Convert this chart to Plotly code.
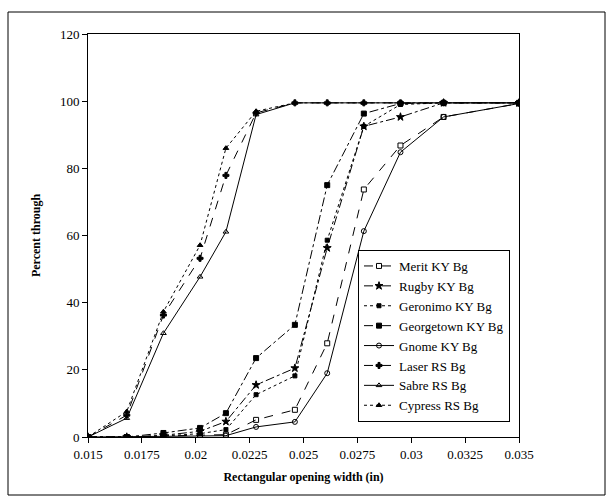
import plotly.graph_objects as go

# Opening widths (in)
widths = [0.015, 0.0168, 0.0185, 0.0202, 0.0214, 0.0228, 0.0246, 0.0261, 0.0278, 0.0295, 0.0315, 0.035]

series_names = ["Merit KY Bg", "Rugby KY Bg", "Geronimo KY Bg", "Georgetown KY Bg",
                "Gnome KY Bg", "Laser RS Bg", "Sabre RS Bg", "Cypress RS Bg"]

merit      = [0, 0, 0.3, 0.5, 0.7, 5.1, 8.1, 27.9, 73.7, 86.8, 95.3, 99.3]
rugby      = [0, 0, 0.5, 1.7, 4.6, 15.5, 20.5, 56.3, 92.5, 95.3, 99.5, 99.5]
geronimo   = [0, 0, 0.3, 1.0, 2.2, 12.6, 18.2, 58.6, 92.5, 99.0, 99.5, 99.5]
georgetown = [0, 0, 1.2, 2.7, 7.1, 23.5, 33.4, 75.0, 96.3, 99.3, 99.5, 99.5]
gnome      = [0, 0, 0.2, 0.3, 0.4, 3.0, 4.5, 19.0, 61.3, 84.8, 95.3, 99.3]
laser      = [0, 6.5, 36.3, 53.2, 77.9, 96.5, 99.5, 99.5, 99.5, 99.5, 99.5, 99.5]
sabre      = [0, 5.6, 30.9, 47.7, 61.1, 96.0, 99.5, 99.5, 99.5, 99.5, 99.5, 99.5]
cypress    = [0, 7.6, 37.3, 57.1, 86.0, 97.0, 99.5, 99.5, 99.5, 99.5, 99.5, 99.5]

values = [merit, rugby, geronimo, georgetown, gnome, laser, sabre, cypress]

dashes = ["dash", "dashdot", "dot", "dashdot", "solid", "dash", "solid", "dot"]
symbols = ["square-open", "star", "square", "square", "circle-open",
           "cross", "triangle-up-open", "triangle-up"]
sizes = [5, 6, 4, 5, 5, 5, 5, 5]

FONT = "Liberation Serif, Times New Roman, serif"

fig = go.Figure()
for name, ys, d, s, sz in zip(series_names, values, dashes, symbols, sizes):
    fig.add_trace(go.Scatter(
        x=widths, y=ys, name=name, mode="lines+markers",
        line=dict(color="black", width=1, dash=d),
        marker=dict(symbol=s, size=sz, color="black",
                    line=dict(color="black", width=1)),
    ))

L, R, T, B = 88, 93, 34, 67
W, H = 612, 504
pw, ph = W - L - R, H - T - B

def px_x(px):
    return (px - L) / pw

def px_y(py):
    return (H - B - py) / ph

fig.add_shape(type="rect", xref="paper", yref="paper",
              x0=px_x(8), x1=px_x(605), y0=px_y(495), y1=px_y(12),
              line=dict(color="black", width=1), layer="below")

fig.update_layout(
    width=W, height=H,
    margin=dict(l=L, r=R, t=T, b=B),
    paper_bgcolor="white", plot_bgcolor="white",
    font=dict(family=FONT, size=13, color="black"),
    showlegend=True,
    legend=dict(x=px_x(358), y=px_y(250), xanchor="left", yanchor="top",
                bordercolor="black", borderwidth=1, bgcolor="white",
                font=dict(family=FONT, size=13, color="black"),
                itemwidth=30, tracegroupgap=0),
    xaxis=dict(range=[0.015, 0.035], tickvals=[0.015, 0.0175, 0.02, 0.0225, 0.025,
                                                0.0275, 0.03, 0.0325, 0.035],
               ticktext=["0.015", "0.0175", "0.02", "0.0225", "0.025", "0.0275",
                         "0.03", "0.0325", "0.035"],
               showgrid=False, zeroline=False, showline=True, linecolor="black",
               linewidth=1, mirror=True, ticks="outside", ticklen=5,
               tickcolor="black", tickfont=dict(family=FONT, size=13),
               title=dict(text="<b>Rectangular opening width (in)</b>",
                          font=dict(family=FONT, size=12), standoff=12)),
    yaxis=dict(range=[0, 120], dtick=20, showgrid=False, zeroline=False,
               showline=True, linecolor="black", linewidth=1, mirror=True,
               ticks="outside", ticklen=5, tickcolor="black",
               tickfont=dict(family=FONT, size=13),
               title=dict(text="<b>Percent through</b>",
                          font=dict(family=FONT, size=12), standoff=16)),
)

fig.write_html("out.html")
